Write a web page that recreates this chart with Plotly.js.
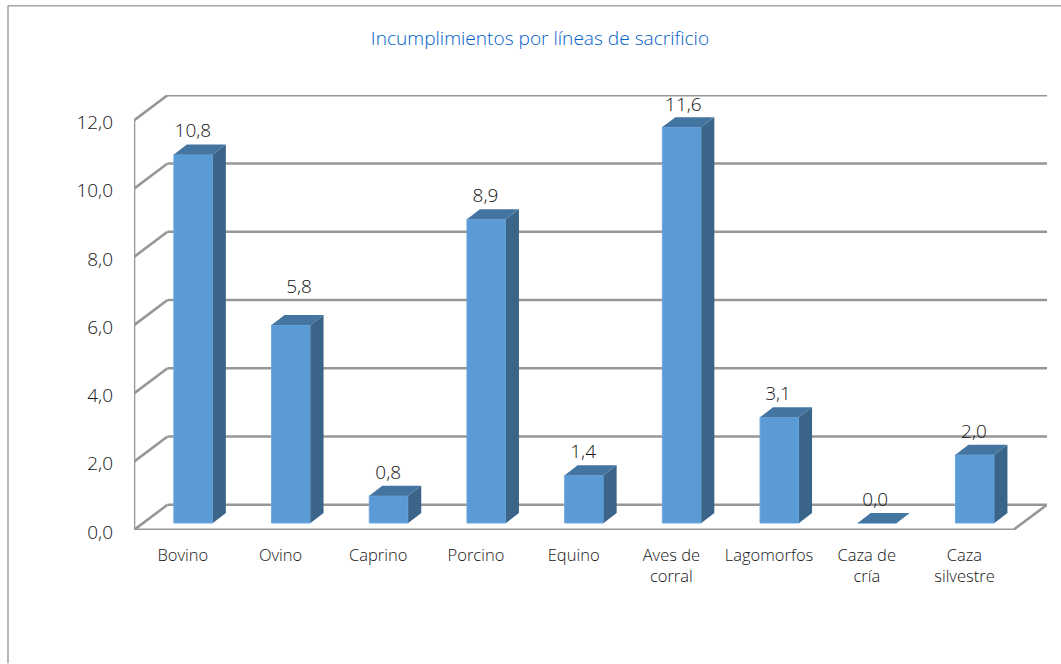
<!DOCTYPE html>
<html><head><meta charset="utf-8">
<script src="https://cdn.plot.ly/plotly-3.0.1.min.js"></script>
<style>html,body{margin:0;padding:0;background:#fff}#c{width:1061px;height:664px}</style>
</head><body><div id="c"></div>
<script>
// Data
const categories = ['Bovino','Ovino','Caprino','Porcino','Equino','Aves de<br>corral','Lagomorfos','Caza de<br>cría','Caza<br>silvestre'];
const values = [10.8,5.8,0.8,8.9,1.4,11.6,3.1,0.0,2.0];
const yTicks = [0,2,4,6,8,10,12];
const titleText = 'Incumplimientos por líneas de sacrificio';

// Pseudo-3D geometry, in px, converted into axis units
const W=1061,H=664, L=134,R=1047,T=94.5,B=530.4;
const pxX=97.7, pxY=34.2;
const wallDX=33.5/pxX, wallDY=25.3/pxY;       // floor / wall depth
const barDX=13/pxX, barDY=10/pxY;             // bar depth
const barW=39/pxX, barShift=10.5/pxX, barBase=7/pxY;
const xMin=-0.5, xMax=xMin+(R-L)/pxX, yMax=(B-T)/pxY;
const xFrontEnd=xMin+9;
const idx=categories.map((_,i)=>i);
const grey='#979797';
const FONT='"Open Sans", sans-serif', TXT='#141414', WEIGHT=300;

const line=(x0,y0,x1,y1,w)=>({type:'line',xref:'x',yref:'y',x0,y0,x1,y1,layer:'below',line:{color:grey,width:w||2.6}});
const shapes=[];
yTicks.forEach(v=>{
  shapes.push(line(xMin+wallDX,v+wallDY,xMax,v+wallDY));
  if(v>0) shapes.push(line(xMin,v,xMin+wallDX,v+wallDY));
});
shapes.push(line(xMin,0,xMin+wallDX,wallDY));
shapes.push(line(xFrontEnd,0,xMax,wallDY));
shapes.push(line(xMin,0,xFrontEnd,0,3));
shapes.push(line(xMin,0,xMin,yTicks[yTicks.length-1],2.6));
// outer chart frame
const px=x=>(x-L)/(R-L), py=y=>(B-y)/(B-T);
[[8,5,8,H],[8,5,W,5]].forEach(([a,b,c,d])=>shapes.push({type:'line',xref:'paper',yref:'paper',layer:'below',
  x0:px(a),y0:py(b),x1:px(c),y1:py(d),line:{color:'#a6a6a6',width:1.6}}));

const bars={type:'bar',x:idx.map(i=>i+barShift),y:values,base:barBase,width:barW,
  marker:{color:'#5b9bd5',line:{color:'#6fa8dc',width:1}},hoverinfo:'skip',showlegend:false};

const topX=[],topY=[],sideX=[],sideY=[];
idx.forEach(i=>{
  const x0=i+barShift-barW/2,x1=i+barShift+barW/2,y1=values[i]+barBase;
  topX.push(x0,x1,x1+barDX,x0+barDX,x0,null);
  topY.push(y1,y1,y1+barDY,y1+barDY,y1,null);
  if(values[i]>0){
    sideX.push(x1,x1+barDX,x1+barDX,x1,x1,null);
    sideY.push(barBase,barBase+barDY,y1+barDY,y1,barBase,null);
  }
});
const face=(x,y,c)=>({type:'scatter',mode:'lines',x,y,fill:'toself',fillcolor:c,line:{width:0,color:c},
  hoverinfo:'skip',showlegend:false,cliponaxis:false});

// label offsets (axis units above the bar front top; px nudges)
const labelLift=idx.map(i=>i===1?37/pxY:(i===5?20.5/pxY:22/pxY));
const labelNudge=[-0.5,8,-0.5,-1,-1,1.5,-1.5,-2,-1];
const labels={type:'scatter',mode:'text',x:idx.map(i=>i+barShift+labelNudge[i]/pxX),
  y:values.map((v,i)=>v+barBase+labelLift[i]),text:values.map(v=>v.toFixed(1).replace('.',',')),
  textposition:'middle center',textfont:{family:FONT,size:19,color:TXT,weight:WEIGHT},hoverinfo:'skip',showlegend:false,cliponaxis:false};

const layout={width:W,height:H,paper_bgcolor:'#fff',plot_bgcolor:'rgba(0,0,0,0)',showlegend:false,
  margin:{l:L,r:W-R,t:T,b:H-B,pad:0},separators:',.',bargap:0,
  title:{text:titleText,font:{family:FONT,size:19.1,color:'#0060c8',weight:WEIGHT},x:540/W,xanchor:'center',y:1-38.5/H,yanchor:'middle'},
  xaxis:{range:[xMin,xMax],tickmode:'array',tickvals:idx,ticktext:categories,showgrid:false,zeroline:false,showline:false,
    ticks:'',ticklabelstandoff:13,tickfont:{family:FONT,size:16.5,color:TXT,weight:WEIGHT}},
  yaxis:{range:[0,yMax],tickmode:'array',tickvals:yTicks,tickformat:'.1f',showgrid:false,zeroline:false,showline:false,
    ticks:'',ticklabelstandoff:20,ticklabelshift:2,tickfont:{family:FONT,size:19,color:TXT,weight:WEIGHT}},
  shapes};
Plotly.newPlot('c',[bars,face(sideX,sideY,'#3a6488'),face(topX,topY,'#4475a1'),labels],layout,{displayModeBar:false,staticPlot:true});
</script></body></html>
